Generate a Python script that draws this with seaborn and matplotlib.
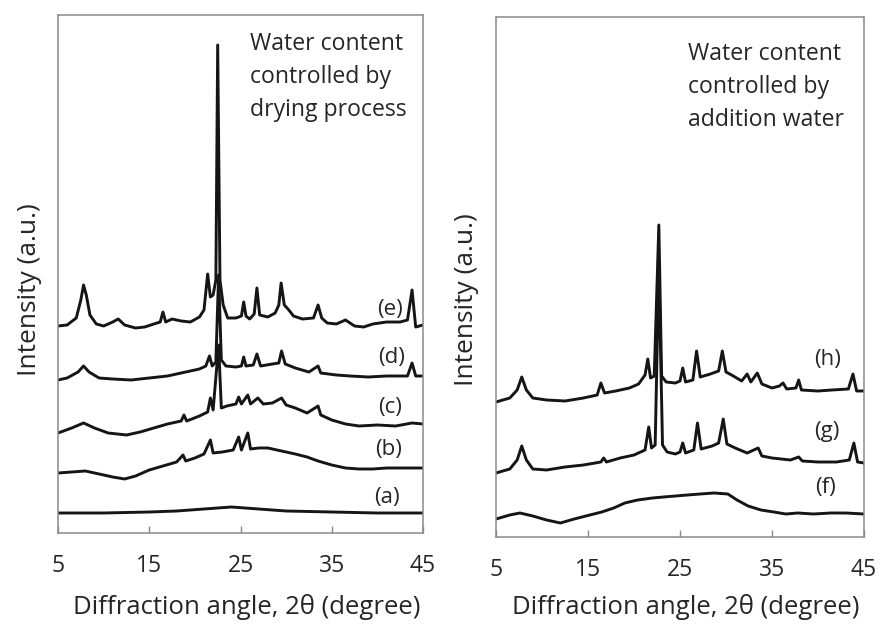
import numpy as np
import pandas as pd
import matplotlib.pyplot as plt
import seaborn as sns

# XRD patterns (2theta in degree, intensity in a.u.)
# left panel: water content controlled by drying process
x_a = [5, 10, 15, 18, 21, 24, 27, 30, 35, 40, 45]
y_a = [20, 20, 21, 22, 24, 26, 24, 22, 21, 20, 20]

x_b = [5, 6.5, 8, 9.5, 11, 12.3, 13.5, 15, 16.5, 18, 18.7, 19.0, 20, 21, 21.7, 22.0,
       23, 24.2, 24.8, 25.1, 25.8, 26.1, 27, 28, 29, 30, 31, 32.3, 33.5, 35, 36.5,
       38, 39.5, 41, 43, 45]
y_b = [60, 61, 62, 59, 56, 54, 57, 63, 67, 71, 78, 72, 75, 79, 93, 80,
       81, 83, 96, 83, 100, 84, 85, 85, 83, 81, 79, 76, 72, 68, 65,
       64, 64, 65, 65, 65]

x_c = [5, 6.5, 7.8, 9, 10.5, 12.5, 14, 15.5, 17, 18.5, 18.8, 19.1, 20.5, 21.4, 21.7,
       22.0, 22.6, 22.9, 23.5, 24.5, 24.8, 25.1, 25.8, 26.1, 26.9, 27.5, 28.5, 29.5,
       30, 31, 32.3, 33.5, 33.8, 35, 36.5, 38, 40, 42, 43.8, 45]
y_c = [100, 105, 110, 105, 100, 98, 101, 105, 109, 112, 118, 112, 117, 121, 135,
       123, 188, 125, 127, 129, 136, 129, 138, 129, 135, 129, 130, 135,
       128, 125, 120, 127, 118, 113, 109, 107, 108, 107, 110, 109]

x_d = [5, 6, 7.2, 7.8, 8.4, 9.5, 11, 13, 15, 17, 19, 20.5, 21.2, 21.6, 21.9, 22.3,
       22.6, 22.9, 23.4, 24.5, 25.1, 25.35, 25.6, 26.4, 26.8, 27.2, 28.5, 29.2, 29.5,
       29.9, 31, 32.5, 33.5, 33.8, 35.5, 37, 39, 41, 43.3, 43.8, 44.2, 45]
y_d = [153, 155, 161, 167, 161, 155, 154, 153, 155, 157, 161, 164, 167, 177, 167, 171,
       258, 173, 167, 166, 167, 176, 167, 168, 179, 167, 169, 170, 182,
       169, 165, 161, 167, 160, 158, 157, 156, 157, 157, 170, 157, 157]

x_e = [5, 6, 7, 7.5, 7.8, 8.1, 8.5, 9.2, 10, 11, 11.6, 12.3, 13.5, 14.5, 15.5, 16.2,
       16.5, 16.8, 17.5, 18.5, 19.5, 20.5, 21.0, 21.4, 21.7, 22.0, 22.3, 22.5, 22.75,
       23.1, 23.6, 24.5, 25.1, 25.35, 25.6, 26.0, 26.5, 26.8, 27.1, 28.0, 28.8, 29.2,
       29.45, 29.8, 30.3, 30.8, 31.8, 33.0, 33.5, 33.9, 34.5, 35.5, 36.5, 37.5, 38.5,
       39.5, 41.0, 42.5, 43.3, 43.8, 44.2, 45]
y_e = [207, 208, 215, 233, 248, 238, 218, 209, 207, 211, 214, 208, 205, 206, 209, 211,
       221, 211, 214, 212, 211, 216, 223, 259, 236, 238, 253, 488, 253,
       228, 215, 215, 217, 231, 217, 214, 219, 245, 218, 216, 220, 228,
       250, 228, 223, 217, 214, 215, 228, 215, 210, 209, 213, 207, 206,
       209, 211, 211, 213, 243, 206, 208]

# right panel: water content controlled by addition water
x_f = [5, 6.5, 7.6, 9, 10.5, 12, 13.5, 15.2, 16.5, 17.8, 19, 20.4, 22, 23.2, 24.5,
       25.8, 27.2, 28.7, 30.2, 31.2, 32.4, 33.8, 35.2, 36.5, 37.8, 39.5, 41.4, 43, 45]
y_f = [18, 22, 24, 21, 17, 14, 18, 22, 25, 29, 34, 37, 39, 40, 41,
       42, 43, 44, 43, 37, 31, 27, 25, 23, 24, 23, 24, 24, 23]

x_g = [5, 6.5, 7.3, 7.8, 8.3, 9, 10.5, 12.5, 14.5, 16.4, 16.7, 17, 18.5, 20, 21.2,
       21.6, 21.9, 22.3, 22.7, 23.1, 23.6, 24.5, 25.0, 25.3, 25.6, 26.5, 26.9, 27.3,
       28.5, 29.2, 29.7, 30.1, 31, 32.3, 33.5, 33.9, 35, 37, 37.9, 38.3, 40, 42, 43.4,
       43.9, 44.3, 45]
y_g = [64, 68, 77, 91, 77, 68, 67, 70, 72, 75, 79, 75, 79, 82, 87,
       110, 89, 92, 270, 92, 85, 83, 85, 94, 84, 87, 114, 88,
       91, 94, 118, 93, 89, 84, 89, 81, 79, 77, 80, 76, 75, 75, 77,
       94, 75, 74]

x_h = [5, 6.5, 7.3, 7.8, 8.3, 9, 10.5, 12.5, 14.5, 16, 16.4, 16.8, 18, 19.5, 20.5,
       21.2, 21.5, 21.8, 22.2, 22.7, 23.0, 23.5, 24.5, 25.0, 25.3, 25.6, 26.4, 26.8,
       27.2, 28.3, 29.2, 29.6, 30.0, 30.8, 31.7, 32.3, 32.7, 33.4, 33.9, 35, 35.8,
       36.2, 36.6, 37.6, 37.9, 38.2, 40, 41.5, 43.3, 43.8, 44.2, 45]
y_h = [135, 139, 147, 160, 147, 139, 137, 136, 139, 142, 154, 144, 146, 149, 153,
       162, 178, 159, 161, 312, 161, 155, 154, 156, 169, 155, 157, 186,
       160, 163, 166, 186, 165, 161, 156, 163, 155, 164, 153, 149, 151,
       154, 148, 149, 157, 147, 146, 147, 148, 163, 146, 146]

left_traces = [("(a)", x_a, y_a), ("(b)", x_b, y_b), ("(c)", x_c, y_c),
               ("(d)", x_d, y_d), ("(e)", x_e, y_e)]
right_traces = [("(f)", x_f, y_f), ("(g)", x_g, y_g), ("(h)", x_h, y_h)]

# label anchor points (2theta, intensity)
left_label_pos = {"(a)": (41.1, 35), "(b)": (41.2, 83), "(c)": (41.4, 126),
                  "(d)": (41.6, 176), "(e)": (41.4, 223)}
right_label_pos = {"(f)": (40.8, 50), "(g)": (41.0, 105), "(h)": (41.0, 177)}

xticks = [5, 15, 25, 35, 45]

sns.set_style("white")
plt.rcParams['font.family'] = ['Open Sans', 'DejaVu Sans']

fig = plt.figure(figsize=(8.8, 6.26), dpi=100)
ax1 = fig.add_axes([58/880, 1-533/626, 365/880, 518/626])
ax2 = fig.add_axes([496/880, 1-537/626, 368/880, 520/626])

txt_col = '#262626'
spine_col = '#8a8a8a'

def draw_panel(ax, traces, label_pos, ytop, note):
    for name, xs, ys in traces:
        df = pd.DataFrame({'angle': xs, 'intensity': ys})
        sns.lineplot(data=df, x='angle', y='intensity', ax=ax, color='#151515',
                     linewidth=2.1, sort=False)
        lx, ly = label_pos[name]
        ax.text(lx, ly, name, ha='center', va='center', fontsize=16, color=txt_col)
    ax.set_xlim(5, 45)
    ax.set_ylim(0, ytop)
    ax.set_xticks(xticks)
    ax.set_xticklabels([str(t) for t in xticks], fontsize=16.5, color=txt_col)
    ax.set_yticks([])
    ax.tick_params(axis='x', direction='in', length=5, width=1, color=spine_col,
                   pad=15, bottom=True)
    for s in ax.spines.values():
        s.set_color(spine_col)
        s.set_linewidth(1.1)
    ax.set_xlabel('Diffraction angle, 2θ (degree)', fontsize=18.5, color=txt_col)
    ax.set_ylabel('Intensity (a.u.)', fontsize=19, color=txt_col)
    ax.text(note[0], note[1], note[2], transform=ax.transAxes, ha='left', va='top',
            fontsize=16.6, color=txt_col, linespacing=1.5)

draw_panel(ax1, left_traces, left_label_pos, 518,
           (0.526, 0.968, 'Water content\ncontrolled by\ndrying process'))
draw_panel(ax2, right_traces, right_label_pos, 520,
           (0.522, 0.952, 'Water content\ncontrolled by\naddition water'))

ax1.xaxis.set_label_coords(0.518, -0.118)
ax2.xaxis.set_label_coords(0.516, -0.110)
ax1.yaxis.set_label_coords(-0.045, 0.47)
ax2.yaxis.set_label_coords(-0.045, 0.456)

fig.savefig('out.png', dpi=100)
